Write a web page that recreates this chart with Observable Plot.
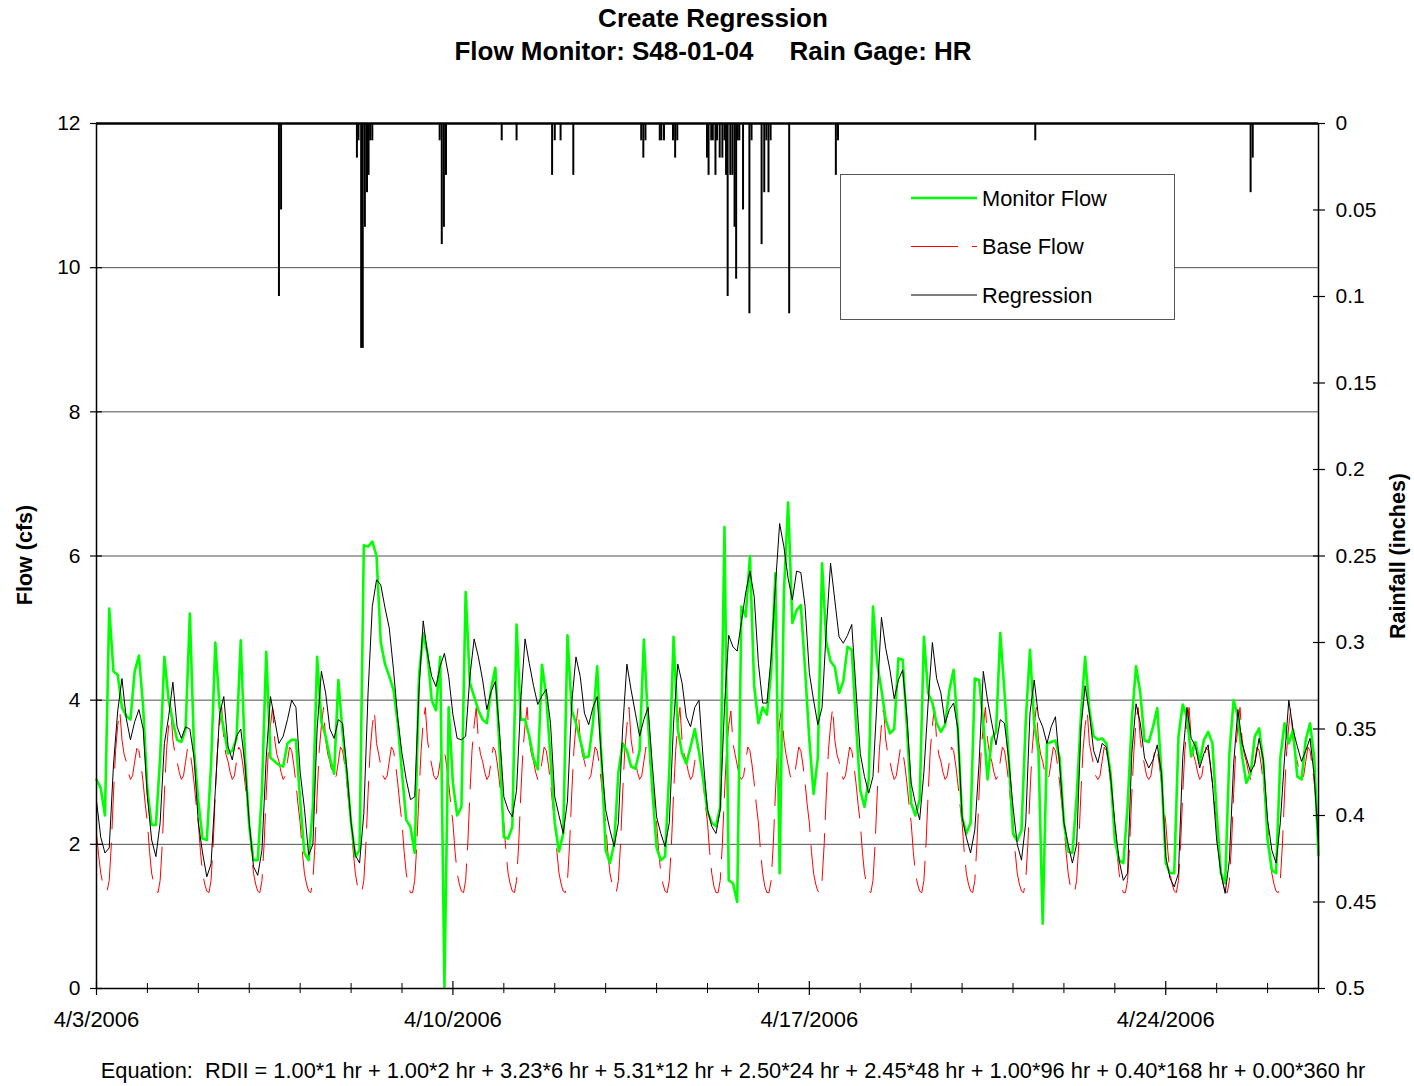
<!DOCTYPE html>
<html>
<head>
<meta charset="utf-8">
<script src="https://cdn.jsdelivr.net/npm/d3@7"></script>
<script src="https://cdn.jsdelivr.net/npm/@observablehq/plot@0.6"></script>
<style>
  body { margin: 0; background: #fff; font-family: "Liberation Sans", Arial, sans-serif; color: #000; }
  #wrap { position: relative; width: 1414px; height: 1086px; overflow: hidden; background: #fff; }
  .title { position: absolute; left: 6px; width: 1414px; text-align: center; font-weight: bold; font-size: 26px; line-height: 30px; white-space: pre; }
  #chart { position: absolute; left: 0; top: 80px; }
  .ylab { position: absolute; font-weight: bold; font-size: 21.5px; white-space: nowrap; transform: translate(-50%, -50%) rotate(-90deg); }
  #equation { position: absolute; left: 52px; width: 1362px; top: 1059px; text-align: center; font-size: 21.8px; line-height: 24px; white-space: pre; }
  #legend { position: absolute; left: 840px; top: 174px; }
</style>
</head>
<body>
<div id="wrap">
  <div class="title" style="top:3px">Create Regression</div>
  <div class="title" style="top:36px">Flow Monitor: S48-01-04     Rain Gage: HR</div>
  <div id="chart"></div>
  <div class="ylab" style="left:25px; top:555px;">Flow (cfs)</div>
  <div class="ylab" style="left:1398px; top:556px;">Rainfall (inches)</div>
  <div id="equation">Equation:  RDII = 1.00*1 hr + 1.00*2 hr + 3.23*6 hr + 5.31*12 hr + 2.50*24 hr + 2.45*48 hr + 1.00*96 hr + 0.40*168 hr + 0.00*360 hr</div>
  <svg id="legend" width="336" height="147"></svg>
</div>
<script>
// ---------------- DATA ----------------
const startDate = "2006-04-03";
const endDate = "2006-04-27";

// Monitor flow (cfs), one row per day (4/3 ... 4/26), sampled every 2 hours
const flowSampleHours = [0, 2, 4, 6, 8, 10, 12, 14, 16, 18, 20, 22];
const monitorFlow = [
  [2.9, 2.78, 2.4, 5.27, 4.4, 4.35, 3.9, 3.78, 3.73, 4.4, 4.62, 3.9],
  [2.75, 2.27, 2.27, 3.2, 4.6, 4.0, 3.7, 3.45, 3.42, 3.6, 5.2, 3.3],
  [2.6, 2.08, 2.06, 3.1, 4.8, 3.9, 3.6, 3.26, 3.3, 3.47, 4.83, 3.2],
  [2.25, 1.78, 1.78, 2.75, 4.67, 3.2, 3.15, 3.1, 3.08, 3.4, 3.45, 3.45],
  [2.6, 1.88, 1.78, 2.52, 4.6, 3.7, 3.5, 3.2, 2.98, 4.28, 3.54, 2.98],
  [2.3, 1.83, 1.92, 6.15, 6.13, 6.2, 6.0, 4.8, 4.5, 4.33, 4.14, 3.68],
  [2.98, 2.34, 2.24, 1.88, 4.33, 4.93, 4.65, 4.0, 3.86, 4.6, 0.02, 3.9],
  [2.85, 2.4, 2.52, 5.5, 4.24, 4.05, 3.86, 3.73, 3.68, 4.15, 4.45, 3.3],
  [2.1, 2.08, 2.24, 5.05, 3.73, 3.73, 3.5, 3.19, 3.04, 4.49, 4.05, 3.2],
  [2.3, 1.9, 2.15, 4.9, 3.86, 3.68, 3.45, 3.2, 3.22, 3.68, 4.47, 3.2],
  [1.92, 1.74, 2.0, 3.0, 3.4, 3.3, 3.08, 3.05, 3.3, 4.84, 3.68, 2.75],
  [1.95, 1.78, 1.83, 3.03, 4.88, 3.6, 3.26, 3.12, 3.35, 3.6, 3.28, 2.9],
  [2.45, 2.3, 2.25, 2.52, 6.4, 1.5, 1.46, 1.2, 5.3, 5.16, 6.0, 4.2],
  [3.68, 3.9, 3.8, 4.38, 5.76, 1.6, 5.49, 6.74, 5.07, 5.25, 5.32, 4.42],
  [3.45, 2.7, 3.2, 5.9, 4.8, 4.54, 4.46, 4.1, 4.26, 4.74, 4.7, 3.68],
  [2.75, 2.52, 2.9, 5.3, 4.51, 4.14, 3.73, 3.54, 3.6, 4.58, 4.56, 3.63],
  [2.57, 2.4, 2.62, 4.88, 4.1, 3.96, 3.68, 3.56, 3.66, 4.14, 4.42, 3.6],
  [2.38, 2.15, 2.3, 4.3, 4.28, 3.68, 2.9, 3.47, 3.56, 4.93, 4.1, 3.2],
  [2.15, 2.05, 2.2, 3.7, 4.7, 3.68, 3.3, 0.9, 3.4, 3.42, 3.44, 3.2],
  [2.3, 1.9, 1.88, 2.66, 3.77, 4.6, 3.86, 3.5, 3.45, 3.47, 3.4, 2.98],
  [2.06, 1.78, 1.74, 2.52, 3.73, 4.47, 4.1, 3.44, 3.42, 3.63, 3.89, 2.98],
  [1.74, 1.6, 1.6, 3.5, 3.94, 3.77, 3.22, 3.42, 3.13, 3.45, 3.56, 3.4],
  [2.43, 1.6, 1.46, 3.26, 4.0, 3.77, 3.22, 2.85, 2.98, 3.5, 3.61, 3.13],
  [2.06, 1.64, 1.6, 3.2, 3.68, 3.4, 3.59, 2.94, 2.9, 3.45, 3.68, 3.2]
];
const monitorFlowEnd = 1.85;

// Regression (cfs), same sampling
const regression = [
  [2.6, 2.1, 1.88, 1.95, 3.1, 3.85, 4.3, 3.75, 3.45, 3.7, 3.87, 3.6],
  [2.66, 2.06, 1.83, 2.3, 3.4, 3.77, 4.25, 3.63, 3.47, 3.63, 3.6, 3.2],
  [2.3, 1.88, 1.55, 1.73, 2.75, 3.8, 4.05, 3.36, 3.17, 3.5, 3.6, 3.1],
  [2.3, 1.69, 1.57, 1.92, 3.2, 4.05, 3.73, 3.4, 3.5, 3.73, 4.0, 3.9],
  [3.0, 2.5, 1.85, 2.0, 3.6, 4.4, 4.1, 3.6, 3.47, 3.73, 3.68, 3.03],
  [2.3, 1.85, 1.74, 2.43, 4.1, 5.3, 5.67, 5.6, 5.28, 5.0, 4.42, 3.75],
  [3.26, 2.9, 2.62, 2.66, 4.14, 5.1, 4.65, 4.33, 4.19, 4.47, 4.65, 4.33],
  [3.8, 3.47, 3.45, 3.5, 4.33, 4.85, 4.6, 4.28, 3.87, 4.12, 4.26, 3.55],
  [2.66, 2.48, 2.38, 2.75, 4.0, 4.85, 4.51, 4.2, 3.94, 4.06, 4.15, 3.68],
  [2.66, 2.4, 2.15, 2.6, 3.96, 4.6, 4.33, 3.82, 3.66, 3.9, 4.05, 3.2],
  [2.48, 2.2, 1.97, 2.3, 3.6, 4.5, 4.14, 3.82, 3.5, 3.73, 3.9, 3.1],
  [2.38, 2.15, 1.97, 2.3, 3.68, 4.5, 4.24, 3.77, 3.63, 3.9, 4.0, 3.17],
  [2.48, 2.25, 2.15, 2.48, 3.9, 4.9, 4.74, 4.68, 5.09, 5.49, 5.79, 5.44],
  [4.51, 3.96, 3.96, 4.6, 5.58, 6.45, 6.13, 5.69, 5.39, 5.79, 5.77, 5.3],
  [4.38, 4.0, 3.66, 3.9, 4.98, 5.9, 5.39, 4.88, 4.79, 4.9, 5.05, 4.14],
  [3.26, 2.94, 2.71, 2.94, 4.05, 5.15, 4.72, 4.42, 4.02, 4.28, 4.42, 3.77],
  [2.85, 2.57, 2.34, 3.0, 3.96, 4.8, 4.3, 4.1, 3.68, 3.87, 3.96, 3.6],
  [2.38, 2.1, 1.88, 2.2, 3.12, 4.4, 4.0, 3.68, 3.38, 3.73, 3.68, 3.17],
  [2.52, 2.0, 1.78, 2.3, 3.82, 4.28, 3.77, 3.63, 3.4, 3.63, 3.77, 3.1],
  [2.3, 2.0, 1.74, 2.0, 3.6, 4.2, 3.82, 3.3, 3.13, 3.4, 3.35, 2.94],
  [2.3, 1.78, 1.5, 1.6, 3.26, 3.95, 3.68, 3.2, 3.06, 3.17, 3.38, 2.98],
  [1.83, 1.53, 1.41, 1.6, 3.2, 3.9, 3.47, 3.36, 3.06, 3.26, 3.38, 2.85],
  [2.06, 1.6, 1.32, 1.78, 3.12, 3.87, 3.4, 3.2, 3.0, 3.12, 3.47, 3.17],
  [2.34, 1.92, 1.74, 2.3, 3.2, 4.0, 3.59, 3.36, 3.15, 3.3, 3.47, 2.94]
];
const regressionEnd = 2.0;

// Base flow (cfs), one row per day, hourly (0..23)
const baseSampleHours = [0,1,2,3,4,5,6,7,8,9,10,11,12,13,14,15,16,17,18,19,20,21,22,23];
const baseFlow = [
  [2.15,1.85,1.6,1.45,1.37,1.35,1.5,2.0,2.7,3.3,3.65,3.85,3.45,3.25,3.15,3.0,2.9,2.95,3.15,3.33,3.3,3.1,2.85,2.55],
  [2.3,1.9,1.6,1.45,1.35,1.33,1.5,2.0,2.7,3.3,3.65,3.9,3.45,3.25,3.15,3.0,2.9,2.95,3.15,3.35,3.3,3.1,2.85,2.55],
  [2.3,1.9,1.6,1.45,1.35,1.33,1.5,2.0,2.7,3.3,3.65,3.9,3.45,3.25,3.15,3.0,2.9,2.95,3.15,3.35,3.3,3.1,2.85,2.55],
  [2.3,1.9,1.6,1.45,1.35,1.33,1.5,2.0,2.7,3.3,3.65,3.9,3.45,3.25,3.15,3.0,2.9,2.95,3.15,3.35,3.3,3.1,2.85,2.55],
  [2.3,1.9,1.6,1.45,1.35,1.33,1.5,2.0,2.7,3.3,3.65,3.9,3.45,3.25,3.15,3.0,2.9,2.95,3.15,3.35,3.3,3.1,2.85,2.55],
  [2.3,1.9,1.6,1.42,1.33,1.33,1.5,2.0,2.7,3.3,3.65,3.85,3.4,3.25,3.1,2.95,2.9,2.95,3.15,3.35,3.3,3.1,2.85,2.55],
  [2.3,1.9,1.6,1.42,1.33,1.33,1.5,2.0,2.7,3.3,3.7,3.9,3.45,3.25,3.1,2.95,2.9,2.95,3.15,3.35,3.3,3.1,2.85,2.55],
  [2.3,1.9,1.6,1.45,1.35,1.33,1.5,2.0,2.7,3.3,3.65,3.9,3.45,3.25,3.15,3.0,2.9,2.95,3.15,3.35,3.3,3.1,2.85,2.55],
  [2.3,1.9,1.6,1.45,1.35,1.33,1.5,2.0,2.7,3.3,3.65,3.9,3.45,3.25,3.15,3.0,2.9,2.95,3.15,3.35,3.3,3.1,2.85,2.55],
  [2.3,1.9,1.6,1.45,1.35,1.33,1.5,2.0,2.7,3.3,3.65,3.9,3.45,3.25,3.15,3.0,2.9,2.95,3.15,3.35,3.3,3.1,2.85,2.55],
  [2.3,1.9,1.6,1.45,1.35,1.33,1.5,2.0,2.7,3.3,3.65,3.9,3.45,3.25,3.15,3.0,2.9,2.95,3.15,3.35,3.3,3.1,2.85,2.55],
  [2.3,1.9,1.6,1.45,1.35,1.33,1.5,2.0,2.7,3.3,3.65,3.9,3.45,3.25,3.15,3.0,2.9,2.95,3.15,3.35,3.3,3.1,2.85,2.55],
  [2.3,1.9,1.6,1.42,1.33,1.33,1.5,2.0,2.7,3.3,3.65,3.85,3.4,3.25,3.1,2.95,2.9,2.95,3.15,3.35,3.3,3.1,2.85,2.55],
  [2.3,1.9,1.6,1.42,1.33,1.33,1.5,2.0,2.7,3.3,3.7,3.9,3.45,3.25,3.1,2.95,2.9,2.95,3.15,3.35,3.3,3.1,2.85,2.55],
  [2.3,1.9,1.6,1.45,1.35,1.33,1.5,2.0,2.7,3.3,3.65,3.9,3.45,3.25,3.15,3.0,2.9,2.95,3.15,3.35,3.3,3.1,2.85,2.55],
  [2.3,1.9,1.6,1.45,1.35,1.33,1.5,2.0,2.7,3.3,3.65,3.9,3.45,3.25,3.15,3.0,2.9,2.95,3.15,3.35,3.3,3.1,2.85,2.55],
  [2.3,1.9,1.6,1.45,1.35,1.33,1.5,2.0,2.7,3.3,3.65,3.9,3.45,3.25,3.15,3.0,2.9,2.95,3.15,3.35,3.3,3.1,2.85,2.55],
  [2.3,1.9,1.6,1.45,1.35,1.33,1.5,2.0,2.7,3.3,3.65,3.9,3.45,3.25,3.15,3.0,2.9,2.95,3.15,3.35,3.3,3.1,2.85,2.55],
  [2.3,1.9,1.6,1.45,1.35,1.33,1.5,2.0,2.7,3.3,3.65,3.9,3.45,3.25,3.15,3.0,2.9,2.95,3.15,3.35,3.3,3.1,2.85,2.55],
  [2.3,1.9,1.6,1.42,1.33,1.33,1.5,2.0,2.7,3.3,3.65,3.85,3.4,3.25,3.1,2.95,2.9,2.95,3.15,3.35,3.3,3.1,2.85,2.55],
  [2.3,1.9,1.6,1.42,1.33,1.33,1.5,2.0,2.7,3.3,3.7,3.9,3.45,3.25,3.1,2.95,2.9,2.95,3.15,3.35,3.3,3.1,2.85,2.55],
  [2.3,1.9,1.6,1.45,1.35,1.33,1.5,2.0,2.7,3.3,3.65,3.9,3.45,3.25,3.15,3.0,2.9,2.95,3.15,3.35,3.3,3.1,2.85,2.55],
  [2.3,1.9,1.6,1.45,1.35,1.33,1.5,2.0,2.7,3.3,3.65,3.9,3.45,3.25,3.15,3.0,2.9,2.95,3.15,3.35,3.3,3.1,2.85,2.55],
  [2.3,1.9,1.6,1.45,1.35,1.33,1.5,2.0,2.7,3.3,3.65,3.9,3.45,3.25,3.15,3.0,2.9,2.95,3.15,3.35,3.3,3.1,2.85,2.55]
];

// Rainfall (inches) at gauge HR
const rainTimes = [
  "2006-04-06T14:00","2006-04-06T15:00",
  "2006-04-08T02:45","2006-04-08T03:30","2006-04-08T04:45","2006-04-08T05:30","2006-04-08T06:30","2006-04-08T07:30","2006-04-08T08:15","2006-04-08T09:00","2006-04-08T10:00",
  "2006-04-09T17:45","2006-04-09T18:45","2006-04-09T19:45","2006-04-09T20:45",
  "2006-04-10T23:00","2006-04-11T06:00","2006-04-11T22:45","2006-04-12T00:00","2006-04-12T02:45","2006-04-12T08:45",
  "2006-04-13T16:45","2006-04-13T17:45","2006-04-13T18:45","2006-04-14T01:30","2006-04-14T02:15","2006-04-14T03:30","2006-04-14T07:45","2006-04-14T08:45","2006-04-14T09:45",
  "2006-04-14T23:45","2006-04-15T00:30","2006-04-15T01:45","2006-04-15T02:30","2006-04-15T03:45","2006-04-15T04:30","2006-04-15T05:45","2006-04-15T07:00","2006-04-15T08:00","2006-04-15T08:45","2006-04-15T09:30","2006-04-15T10:45","2006-04-15T11:45","2006-04-15T12:45","2006-04-15T13:30","2006-04-15T14:15","2006-04-15T15:00","2006-04-15T16:45","2006-04-15T19:45","2006-04-15T20:45",
  "2006-04-16T01:30","2006-04-16T02:45","2006-04-16T03:45","2006-04-16T04:45","2006-04-16T05:45","2006-04-16T14:30",
  "2006-04-17T12:30","2006-04-17T13:30","2006-04-21T10:30","2006-04-25T16:00","2006-04-25T17:00"
];
const rainInches = [
  0.10, 0.05,
  0.02, 0.01, 0.13, 0.13, 0.06, 0.04, 0.03, 0.01, 0.01,
  0.01, 0.07, 0.06, 0.03,
  0.01, 0.01, 0.03, 0.01, 0.01, 0.03,
  0.01, 0.02, 0.01, 0.01, 0.01, 0.01, 0.01, 0.02, 0.01,
  0.02, 0.03, 0.01, 0.01, 0.03, 0.01, 0.02, 0.02, 0.01, 0.03, 0.10, 0.03, 0.03, 0.06, 0.09, 0.01, 0.01, 0.05, 0.11, 0.01,
  0.07, 0.04, 0.01, 0.04, 0.01, 0.11,
  0.03, 0.01, 0.01, 0.04, 0.02
];

// Axis ticks
const flowTicks = [0, 2, 4, 6, 8, 10, 12];
const rainTicks = [0, 0.05, 0.1, 0.15, 0.2, 0.25, 0.3, 0.35, 0.4, 0.45, 0.5];
const weekLabelDates = ["2006-04-03", "2006-04-10", "2006-04-17", "2006-04-24"];

// ---------------- BUILD ----------------
const HOUR = 3600e3;
const t0 = new Date(startDate + "T00:00Z").getTime();
const tEnd = new Date(endDate + "T00:00Z");
const rainMax = 0.5, flowMax = 12;
const rainToFlow = r => flowMax - r * (flowMax / rainMax);
const flowToRainLabel = y => String(+((flowMax - y) * rainMax / flowMax).toFixed(2));

function series(rows, hours, endValue) {
  const out = [];
  rows.forEach((row, d) => row.forEach((v, i) => out.push({t: new Date(t0 + (d * 24 + hours[i]) * HOUR), v})));
  if (endValue !== undefined) out.push({t: tEnd, v: endValue});
  return out;
}
const monitorData = series(monitorFlow, flowSampleHours, monitorFlowEnd);
const regressionData = series(regression, flowSampleHours, regressionEnd);
const baseData = series(baseFlow, baseSampleHours);
const rainData = rainTimes.map((s, i) => ({t: new Date(s + "Z"), r: rainInches[i]}));

const dayTicks = d3.utcDay.range(new Date(t0), new Date(tEnd.getTime() + 1));
const weekTicks = weekLabelDates.map(s => new Date(s + "T00:00Z"));
const minorDayTicks = dayTicks.filter(d => !weekTicks.some(w => +w === +d));
const fmtDate = d => `${d.getUTCMonth() + 1}/${d.getUTCDate()}/${d.getUTCFullYear()}`;
const rainTickPos = rainTicks.map(rainToFlow);

const chart = Plot.plot({
  width: 1414,
  height: 960,
  marginTop: 43,
  marginBottom: 52,
  marginLeft: 96,
  marginRight: 96,
  x: {type: "utc", domain: [new Date(t0), tEnd]},
  y: {domain: [0, flowMax]},
  style: {fontFamily: "'Liberation Sans', Arial, sans-serif", fontSize: "21px", color: "#000", background: "#fff", overflow: "visible"},
  marks: [
    Plot.ruleY(flowTicks.filter(v => v > 0 && v < flowMax), {stroke: "#505050", strokeWidth: 1}),
    Plot.ruleX(rainData, {x: "t", y1: flowMax, y2: d => rainToFlow(d.r), stroke: "#000", strokeWidth: 2}),
    Plot.line(baseData, {x: "t", y: "v", stroke: "#ff0000", strokeWidth: 1, strokeDasharray: "47,14"}),
    Plot.line(monitorData, {x: "t", y: "v", stroke: "#00ff00", strokeWidth: 2.6}),
    Plot.line(regressionData, {x: "t", y: "v", stroke: "#000", strokeWidth: 1}),
    Plot.ruleY([flowMax], {stroke: "#000", strokeWidth: 2.5}),
    Plot.ruleY([0], {stroke: "#000", strokeWidth: 1.5}),
    Plot.ruleX([new Date(t0)], {stroke: "#000", strokeWidth: 1.5}),
    Plot.ruleX([tEnd], {stroke: "#000", strokeWidth: 1.5}),
    // left axis (ticks crossing the axis line)
    Plot.axisY(flowTicks, {anchor: "left", tickSize: 6, tickPadding: 10, label: null, tickFormat: d => String(d), strokeWidth: 1.2}),
    Plot.axisY(flowTicks, {anchor: "left", tickSize: 6, dx: 6, label: null, tickFormat: () => "", strokeWidth: 1.2}),
    // right (rainfall) axis
    Plot.axisY(rainTickPos, {anchor: "right", tickSize: 6, tickPadding: 11, label: null, tickFormat: flowToRainLabel, strokeWidth: 1.2}),
    Plot.axisY(rainTickPos, {anchor: "right", tickSize: 6, dx: -6, label: null, tickFormat: () => "", strokeWidth: 1.2}),
    // bottom axis: daily minor ticks, weekly labelled ticks
    Plot.axisX(minorDayTicks, {anchor: "bottom", tickSize: 5, label: null, tickFormat: () => "", strokeWidth: 1}),
    Plot.axisX(minorDayTicks, {anchor: "bottom", tickSize: 5, dy: -5, label: null, tickFormat: () => "", strokeWidth: 1}),
    Plot.axisX(weekTicks, {anchor: "bottom", tickSize: 7, tickPadding: 16, label: null, tickFormat: fmtDate, strokeWidth: 1.2, fontSize: 22}),
    Plot.axisX(weekTicks, {anchor: "bottom", tickSize: 7, dy: -7, label: null, tickFormat: () => "", strokeWidth: 1.2})
  ]
});
document.getElementById("chart").appendChild(chart);

// ---------------- LEGEND ----------------
const legendItems = [
  {label: "Monitor Flow", stroke: "#00ff00", width: 2.6, dash: null},
  {label: "Base Flow", stroke: "#ff0000", width: 1, dash: "47,14"},
  {label: "Regression", stroke: "#000", width: 1, dash: null}
];
const lg = d3.select("#legend");
lg.append("rect").attr("x", 0.5).attr("y", 0.5).attr("width", 334).attr("height", 145)
  .attr("fill", "#fff").attr("stroke", "#555").attr("stroke-width", 1);
legendItems.forEach((it, i) => {
  const y = 24 + i * 48.5;
  lg.append("line").attr("x1", 71).attr("x2", 137).attr("y1", y).attr("y2", y)
    .attr("stroke", it.stroke).attr("stroke-width", it.width).attr("stroke-dasharray", it.dash);
  lg.append("text").attr("x", 142).attr("y", y).attr("dy", "0.36em")
    .attr("font-family", "'Liberation Sans', Arial, sans-serif").attr("font-size", 21.8).text(it.label);
});
</script>
</body>
</html>
